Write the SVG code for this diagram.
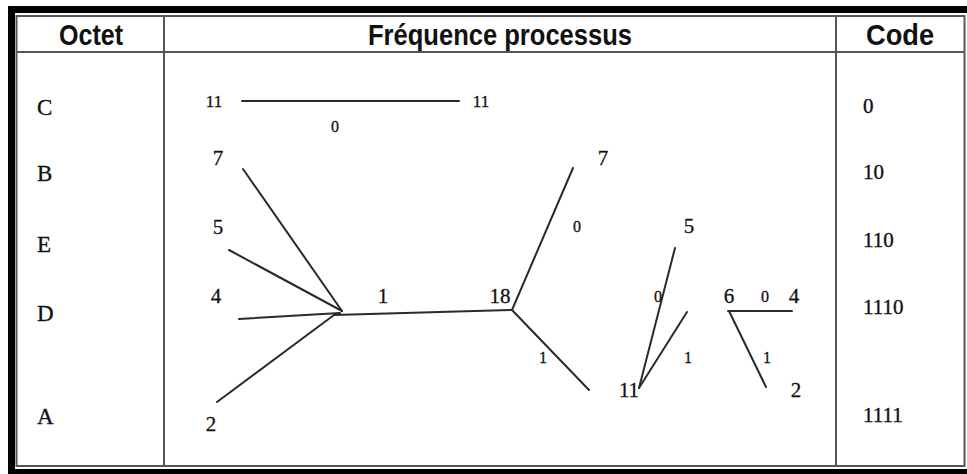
<svg xmlns="http://www.w3.org/2000/svg" width="967" height="474" viewBox="0 0 967 474">
<style>
.hdr{font-family:"Liberation Sans",Arial,sans-serif;font-weight:bold;font-size:25px;fill:#111;text-anchor:middle}
.lbl{font-family:"Liberation Serif","Times New Roman",serif;font-size:23px;fill:#111;stroke:#111;stroke-width:0.35}
.num{font-family:"Liberation Serif","Times New Roman",serif;font-size:21px;fill:#111;stroke:#111;stroke-width:0.3;text-anchor:middle}
.sm{font-family:"Liberation Serif","Times New Roman",serif;font-size:17px;fill:#111;stroke:#111;stroke-width:0.3;text-anchor:middle}
.edge{font-family:"Liberation Serif","Times New Roman",serif;font-size:16px;fill:#111;stroke:#111;stroke-width:0.3;text-anchor:middle}
.code{font-family:"Liberation Serif","Times New Roman",serif;font-size:21px;fill:#111;stroke:#111;stroke-width:0.35}
.grid{stroke:#555;stroke-width:2;fill:none}
.conn line{stroke:#2a2a2a;stroke-width:2;stroke-linecap:round}
</style>
<rect width="967" height="474" fill="#fff"/>
<g id="frame">
<rect x="8" y="6" width="966" height="7" fill="#000"/>
<rect x="8" y="6" width="7" height="468" fill="#000"/>
<rect x="8" y="469" width="966" height="5" fill="#000"/>
<rect x="16.5" y="16" width="948" height="450" class="grid"/>
<line x1="16" y1="52" x2="965" y2="52" class="grid"/>
<line x1="164" y1="16" x2="164" y2="466" class="grid"/>
<line x1="836" y1="16" x2="836" y2="466" class="grid"/>
</g>
<g id="header">
<text class="hdr" transform="translate(91,45) scale(1,1.18)" textLength="64" lengthAdjust="spacingAndGlyphs">Octet</text>
<text class="hdr" transform="translate(500,45) scale(1,1.18)" textLength="264" lengthAdjust="spacingAndGlyphs">Fréquence processus</text>
<text class="hdr" transform="translate(900,45) scale(1,1.18)" textLength="68" lengthAdjust="spacingAndGlyphs">Code</text>
</g>
<g id="octets">
<text class="lbl" x="37" y="115">C</text>
<text class="lbl" x="37" y="181">B</text>
<text class="lbl" x="37" y="252">E</text>
<text class="lbl" x="37" y="321">D</text>
<text class="lbl" x="37" y="424">A</text>
</g>
<g id="codes">
<text class="code" x="863" y="113">0</text>
<text class="code" x="863" y="179">10</text>
<text class="code" x="863" y="247">110</text>
<text class="code" x="863" y="314">1110</text>
<text class="code" x="863" y="422">1111</text>
</g>
<g class="conn" id="connectors">
<line x1="242" y1="101" x2="459" y2="101"/>
<line x1="243" y1="169" x2="342" y2="311"/>
<line x1="229" y1="250" x2="342" y2="311"/>
<line x1="239" y1="319" x2="340" y2="313"/>
<line x1="217" y1="402" x2="334" y2="315"/>
<line x1="334" y1="315" x2="512" y2="310"/>
<line x1="512" y1="310" x2="573" y2="168"/>
<line x1="512" y1="310" x2="589" y2="390"/>
<line x1="675" y1="248" x2="639" y2="388"/>
<line x1="639" y1="388" x2="687" y2="312"/>
<line x1="728" y1="311" x2="792" y2="311"/>
<line x1="729" y1="311" x2="766" y2="387"/>
</g>
<g id="tree-labels">
<text class="sm" x="214" y="107">11</text>
<text class="sm" x="481" y="107">11</text>
<text class="edge" x="335" y="132">0</text>
<text class="num" x="218" y="165">7</text>
<text class="num" x="218" y="234">5</text>
<text class="num" x="216" y="303">4</text>
<text class="num" x="211" y="431">2</text>
<text class="num" x="383" y="303">1</text>
<text class="num" x="500" y="303">18</text>
<text class="num" x="603" y="165">7</text>
<text class="edge" x="577" y="232">0</text>
<text class="edge" x="543" y="363">1</text>
<text class="num" x="629" y="397">11</text>
<text class="num" x="689" y="233">5</text>
<text class="edge" x="658" y="302">0</text>
<text class="edge" x="688" y="363">1</text>
<text class="num" x="729" y="303">6</text>
<text class="edge" x="765" y="302">0</text>
<text class="num" x="794" y="303">4</text>
<text class="edge" x="767" y="363">1</text>
<text class="num" x="796" y="397">2</text>
</g>
</svg>
